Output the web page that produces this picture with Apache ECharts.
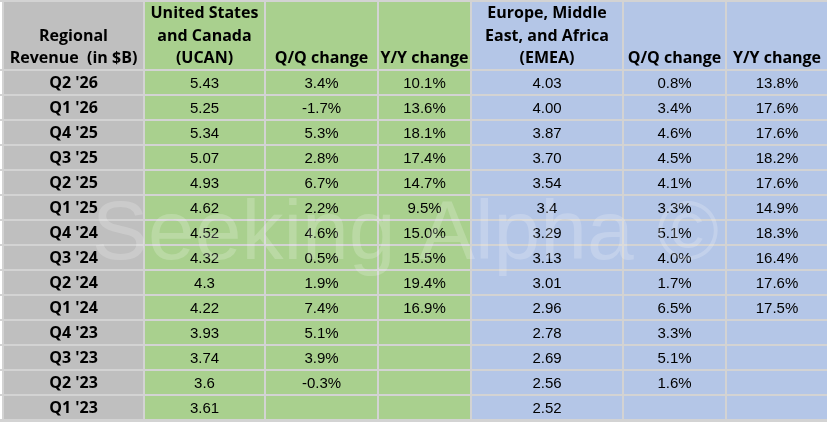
<!DOCTYPE html>
<html>
<head>
<meta charset="utf-8">
<script src="https://cdn.jsdelivr.net/npm/echarts@6/dist/echarts.min.js"></script>
<style>
  html, body { margin: 0; padding: 0; background: #ffffff; }
  #main { width: 827px; height: 422px; }
</style>
</head>
<body>
<div id="main"></div>
<script>
// 表格数据
const headers = [
  'Regional\nRevenue  (in $B)',
  'United States\nand Canada\n(UCAN)',
  'Q/Q change',
  'Y/Y change',
  'Europe, Middle\nEast, and Africa\n(EMEA)',
  'Q/Q change',
  'Y/Y change'
]
const quarters = ["Q2 '26", "Q1 '26", "Q4 '25", "Q3 '25", "Q2 '25", "Q1 '25", "Q4 '24",
  "Q3 '24", "Q2 '24", "Q1 '24", "Q4 '23", "Q3 '23", "Q2 '23", "Q1 '23"]
const ucan = ['5.43', '5.25', '5.34', '5.07', '4.93', '4.62', '4.52', '4.32', '4.3', '4.22', '3.93', '3.74', '3.6', '3.61']
const ucanQoQ = [3.4, -1.7, 5.3, 2.8, 6.7, 2.2, 4.6, 0.5, 1.9, 7.4, 5.1, 3.9, -0.3, null]
const ucanYoY = [10.1, 13.6, 18.1, 17.4, 14.7, 9.5, 15.0, 15.5, 19.4, 16.9, null, null, null, null]
const emea = ['4.03', '4.00', '3.87', '3.70', '3.54', '3.4', '3.29', '3.13', '3.01', '2.96', '2.78', '2.69', '2.56', '2.52']
const emeaQoQ = [0.8, 3.4, 4.6, 4.5, 4.1, 3.3, 5.1, 4.0, 1.7, 6.5, 3.3, 5.1, 1.6, null]
const emeaYoY = [13.8, 17.6, 17.6, 18.2, 17.6, 14.9, 18.3, 16.4, 17.6, 17.5, null, null, null, null]

// 布局
const colEdges = [3, 144, 265, 378, 471, 623, 726, 828]
const headerTop = 1
const headerBottom = 70
const rowH = 25
const colColors = ['#bfbfbf', '#a9d08e', '#a9d08e', '#a9d08e', '#b4c6e7', '#b4c6e7', '#b4c6e7']

function pct(v) {
  return v == null ? '' : v.toFixed(1) + '%'
}
const columns = [
  quarters,
  ucan,
  ucanQoQ.map(pct),
  ucanYoY.map(pct),
  emea,
  emeaQoQ.map(pct),
  emeaYoY.map(pct)
]

function cellText(col, row) {
  if (row === 0) return headers[col]
  return columns[col][row - 1]
}

const cells = []
for (let r = 0; r <= quarters.length; r++) {
  for (let c = 0; c < headers.length; c++) {
    cells.push([c, r])
  }
}

function renderCell(params, api) {
  const col = api.value(0)
  const row = api.value(1)
  const y0 = row === 0 ? headerTop : headerBottom + (row - 1) * rowH
  const y1 = row === 0 ? headerBottom : y0 + rowH
  const p0 = api.coord([colEdges[col], y0])
  const p1 = api.coord([colEdges[col + 1], y1])
  const children = [{
    type: 'rect',
    shape: { x: p0[0] + 1, y: p0[1] + 1, width: p1[0] - p0[0] - 2, height: p1[1] - p0[1] - 2 },
    style: { fill: colColors[col] }
  }]
  if (col === 0) {
    children.push({
      type: 'rect',
      shape: { x: 0, y: p0[1] + 1, width: p0[0] - 1, height: p1[1] - p0[1] - 2 },
      style: { fill: '#ffffff' }
    })
  }
  const bold = row === 0 || col === 0
  children.push({
    type: 'text',
    x: (p0[0] + p1[0]) / 2,
    y: row === 0 ? p1[1] : (p0[1] + p1[1]) / 2 + 1,
    style: {
      text: cellText(col, row),
      fill: '#000000',
      align: 'center',
      verticalAlign: row === 0 ? 'bottom' : 'middle',
      fontFamily: bold ? 'Open Sans' : 'Liberation Sans',
      fontWeight: bold ? 'bold' : 'normal',
      fontSize: bold ? 16 : 15,
      lineHeight: 22.5
    }
  })
  return { type: 'group', children: children }
}

const chart = echarts.init(document.getElementById('main'))
const option = {
  backgroundColor: '#d3d3d3',
  animation: false,
  grid: { left: 0, right: 0, top: 0, bottom: 0 },
  xAxis: { type: 'value', min: 0, max: 827, show: false },
  yAxis: { type: 'value', min: 0, max: 422, inverse: true, show: false },
  graphic: [{
    type: 'text',
    z: 100,
    left: 92,
    top: 194,
    silent: true,
    style: {
      text: 'Seeking Alpha ©',
      fill: 'rgba(255,255,255,0.2)',
      fontFamily: 'Liberation Sans',
      fontSize: 84
    }
  }],
  series: [{
    type: 'custom',
    renderItem: renderCell,
    data: cells,
    clip: false,
    silent: true
  }]
}
chart.setOption(option)
</script>
</body>
</html>
